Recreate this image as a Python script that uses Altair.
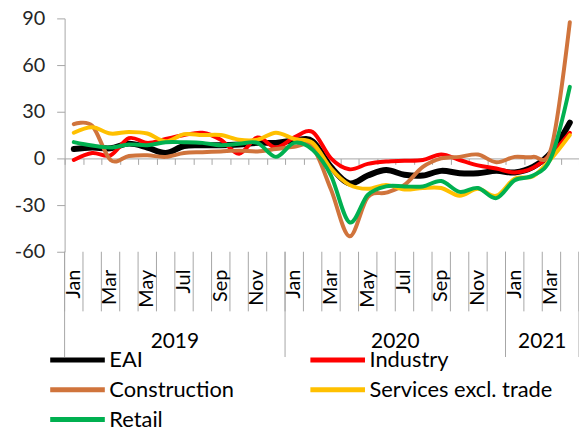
import altair as alt
import pandas as pd

months = ["Jan", "Feb", "Mar", "Apr", "May", "Jun", "Jul", "Aug", "Sep", "Oct", "Nov", "Dec"] * 2 + ["Jan", "Feb", "Mar", "Apr"]
years = ["2019"] * 12 + ["2020"] * 12 + ["2021"] * 4
series_names = ["EAI", "Industry", "Construction", "Services excl. trade", "Retail"]
colors = ["#000000", "#FF0000", "#D0743C", "#FFC000", "#00B050"]

eai = [6, 7, 6.5, 9.5, 7, 3.5, 8, 8.5, 8.5, 9, 10, 10,
       11.5, 11, -5.5, -16, -11, -7.5, -10.5, -11, -8, -9.5, -9.5, -8,
       -9, -5.5, 4, 23]
industry = [-1, 3.5, 2, 13, 10, 12.5, 15, 16.5, 12, 3, 13.5, 7,
            13.5, 17, 0, -7, -3.5, -2, -1.5, -1, 2.5, -1, -4.5, -6.5,
            -9, -6, 3, 16.5]
construction = [22, 21, -1, 1.5, 2, 1, 3.5, 4, 4.5, 5, 4.5, 6,
                7.5, 7, -20, -50, -25, -22, -17, -5.5, 0, 1, 2.5, -2.5,
                1, 1, 7, 87.5]
services = [16.5, 20, 16, 17, 16, 11, 15.5, 15, 15, 12, 12, 16.5,
            12.5, 10, -6.5, -17, -19.5, -17, -20, -19, -19, -24, -19.5, -24,
            -13, -11.5, 0, 15]
retail = [10.5, 8.3, 7, 9, 8.5, 10.4, 10.4, 10, 8.5, 9.4, 10, 1,
          10, 5.5, -11, -41, -23.5, -18, -18, -18, -14.5, -21.5, -19, -25.5,
          -14, -11, 1, 46]

values_by_series = [eai, industry, construction, services, retail]
widths = [6, 4, 4, 4, 4]

rows = []
for name, vals in zip(series_names, values_by_series):
    for i, v in enumerate(vals):
        rows.append({"series": name, "pos": i + 0.5, "value": v})
df = pd.DataFrame(rows)

n = len(months)
month_df = pd.DataFrame({"pos": [i + 0.5 for i in range(n)], "month": months})
month_lab_df = month_df.iloc[::2]
bound_df = pd.DataFrame({"b": list(range(n + 1))})

year_bounds = [0]
year_list = []
for i, y in enumerate(years):
    if i > 0 and y != years[i - 1]:
        year_bounds.append(i)
    if y not in year_list:
        year_list.append(y)
year_bounds.append(n)
year_sep_df = pd.DataFrame({"b": year_bounds})
year_lab_df = pd.DataFrame({
    "year": year_list,
    "pos": [(year_bounds[k] + year_bounds[k + 1]) / 2 for k in range(len(year_list))],
})

FONT = "Lato"
GRAY = "#A6A6A6"
xscale = alt.Scale(domain=[0, n], nice=False, zero=False)
yscale = alt.Scale(domain=[-60, 90], nice=False, zero=False)

x_axis = alt.Axis(values=list(range(n + 1)), labels=False, title=None, grid=False,
                  offset=-94, tickSize=6, domainColor=GRAY, tickColor=GRAY)
y_axis = alt.Axis(values=[-60, -30, 0, 30, 60, 90], title=None, grid=False,
                  tickSize=8, domainColor=GRAY, tickColor=GRAY,
                  labelExpr="datum.value + ''",
                  labelFont=FONT, labelFontSize=20, labelColor="#262626",
                  labelPadding=12)

color = alt.Color(
    "series:N",
    scale=alt.Scale(domain=series_names, range=colors),
    legend=alt.Legend(
        title=None, orient="none", legendX=1, legendY=332, columns=2,
        direction="horizontal",
        symbolType="M-3,0H3", symbolSize=336, symbolStrokeWidth=5,
        labelFont=FONT, labelFontSize=22, labelColor="#000000",
        labelOffset=20, rowPadding=7, columnPadding=66, labelLimit=400,
    ),
)

layers = []
for name, w in zip(series_names, widths):
    layers.append(
        alt.Chart(df[df.series == name]).mark_line(
            interpolate="cardinal", strokeWidth=w, strokeCap="round", strokeJoin="round"
        ).encode(
            x=alt.X("pos:Q", scale=xscale, axis=x_axis),
            y=alt.Y("value:Q", scale=yscale, axis=y_axis),
            color=color,
        )
    )

month_seps = alt.Chart(bound_df).mark_rule(color=GRAY, strokeWidth=1).encode(
    x=alt.X("b:Q", scale=xscale, axis=x_axis), y=alt.value(235), y2=alt.value(295)
)
year_seps = alt.Chart(year_sep_df).mark_rule(color=GRAY, strokeWidth=1).encode(
    x=alt.X("b:Q", scale=xscale, axis=x_axis), y=alt.value(235), y2=alt.value(341)
)
month_labels = alt.Chart(month_lab_df).mark_text(
    angle=270, align="right", baseline="middle", font=FONT, fontSize=20, color="#000000"
).encode(x=alt.X("pos:Q", scale=xscale, axis=x_axis), y=alt.value(253), text="month:N")
year_labels = alt.Chart(year_lab_df).mark_text(
    align="center", baseline="middle", font=FONT, fontSize=21, color="#000000"
).encode(x=alt.X("pos:Q", scale=xscale, axis=x_axis), y=alt.value(326), text="year:N")

chart = alt.layer(*layers, month_seps, year_seps, month_labels, year_labels).properties(
    width=518, height=235,
    autosize=alt.AutoSizeParams(type="none"),
    padding={"left": 57, "top": 9, "right": 0, "bottom": 176},
).configure_view(stroke=None)

chart.save("out.html", embed_options={"renderer": "svg", "actions": False})
